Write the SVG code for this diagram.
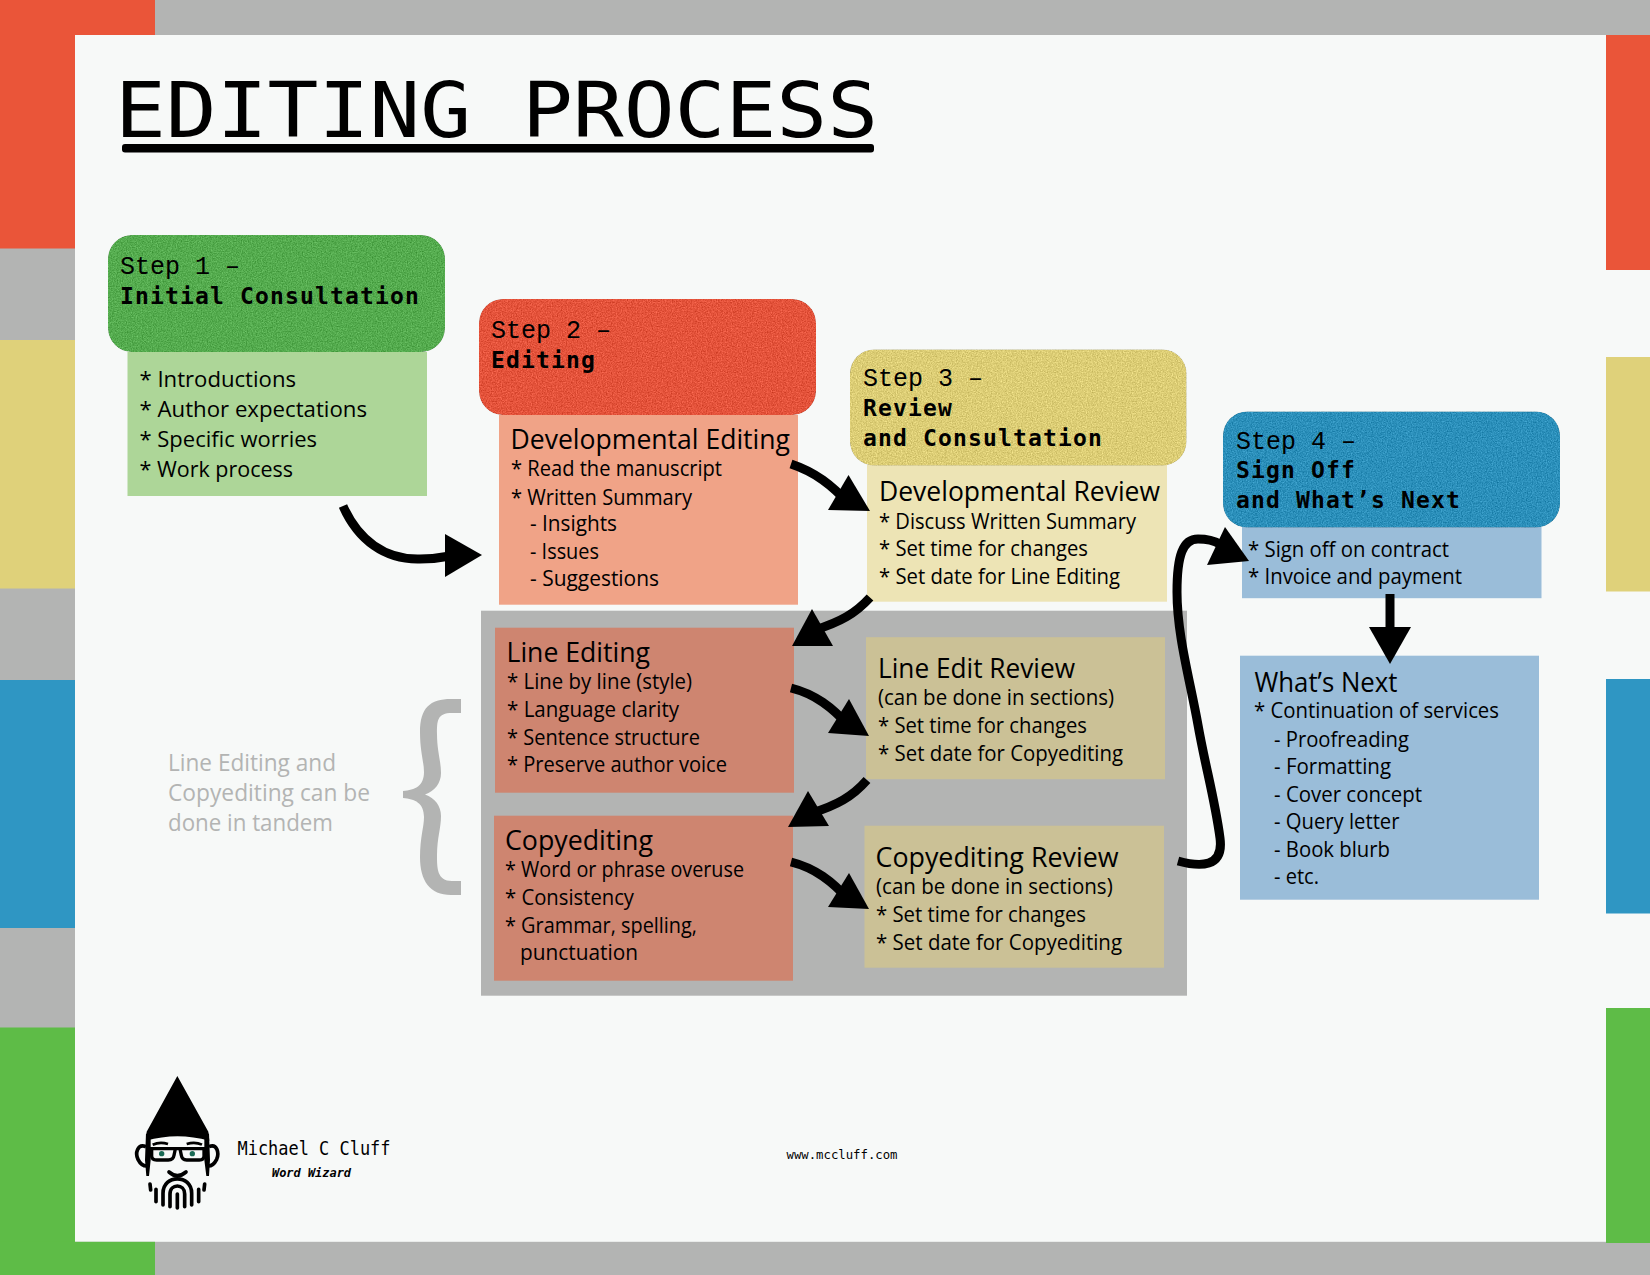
<svg xmlns="http://www.w3.org/2000/svg" width="1650" height="1275" viewBox="0 0 1650 1275">
<style>
.m{font-family:"Liberation Mono","DejaVu Sans Mono",monospace;fill:#000}
.d{font-family:"DejaVu Sans Mono","Liberation Mono",monospace;fill:#000}
.s{font-size:25px}
.b{font-size:23px;font-weight:700;letter-spacing:1.15px}
.h{font-family:"Open Sans","Noto Sans",sans-serif;font-size:28px;fill:#000}
.t{font-family:"Open Sans","Noto Sans",sans-serif;font-size:22px;fill:#000}
.g{font-family:"Open Sans","Noto Sans",sans-serif;font-size:24px;fill:#b3b4b3}
.ln{fill:none;stroke:#000;stroke-width:9}
</style>
<defs>
<filter id="grain" x="0" y="0" width="100%" height="100%" color-interpolation-filters="sRGB">
<feTurbulence type="fractalNoise" baseFrequency="0.8" numOctaves="2" seed="4" result="n"/>
<feColorMatrix in="n" type="matrix" values="1 0 0 0 0 1 0 0 0 0 1 0 0 0 0 0 0 0 0 1" result="c"/>
<feComposite in="SourceGraphic" in2="c" operator="arithmetic" k1="0" k2="1" k3="0.3" k4="-0.15" result="d"/>
<feComposite in="d" in2="SourceAlpha" operator="in"/>
</filter>
</defs>
<g id="frame">
<rect width="1650" height="1275" fill="#b3b4b3"/>
<rect x="75" y="35" width="1531" height="1206.800" fill="#f7f9f8"/>
<rect x="1606" y="35" width="44" height="1208" fill="#f7f9f8"/>
<rect width="155" height="35" fill="#ea5539"/>
<rect width="75" height="248.500" fill="#ea5539"/>
<rect y="340" width="75" height="248.500" fill="#dfd17a"/>
<rect y="680" width="75" height="248" fill="#2f96c3"/>
<rect y="1027.500" width="75" height="247.500" fill="#5ebc47"/>
<rect y="1241.800" width="155" height="33.200" fill="#5ebc47"/>
<rect x="1606" y="35" width="44" height="235" fill="#ea5539"/>
<rect x="1606" y="357" width="44" height="234.500" fill="#dfd17a"/>
<rect x="1606" y="679" width="44" height="234.500" fill="#2f96c3"/>
<rect x="1606" y="1008" width="44" height="235" fill="#5ebc47"/>
</g>
<g id="title">
<text class="d" x="115" y="137" font-size="77" textLength="763" lengthAdjust="spacingAndGlyphs">EDITING PROCESS</text>
<rect x="122" y="144" width="752" height="8.500" rx="3" fill="#000"/>
</g>
<g id="tandem-group">
<rect x="481" y="610.700" width="706" height="385" fill="#b3b4b3"/>
</g>
<g id="step1">
<rect x="127.500" y="352" width="299.500" height="144" fill="#add698"/>
<rect x="108" y="235" width="337" height="117" rx="24" fill="#54ab4e" filter="url(#grain)"/>
<text class="m s" x="120" y="274">Step 1 –</text>
<text class="d b" x="120" y="304">Initial Consultation</text>
<text class="t" x="139.500" y="387" textLength="156.500" lengthAdjust="spacingAndGlyphs">* Introductions</text>
<text class="t" x="139.500" y="417" textLength="227.500" lengthAdjust="spacingAndGlyphs">* Author expectations</text>
<text class="t" x="139.500" y="447" textLength="177.500" lengthAdjust="spacingAndGlyphs">* Specific worries</text>
<text class="t" x="139.500" y="477" textLength="153.500" lengthAdjust="spacingAndGlyphs">* Work process</text>
</g>
<g id="step2">
<rect x="499" y="415" width="299" height="189.700" fill="#f0a387"/>
<rect x="479" y="299" width="337" height="116" rx="24" fill="#e4533b" filter="url(#grain)"/>
<text class="m s" x="491" y="338">Step 2 –</text>
<text class="d b" x="491" y="368">Editing</text>
<text class="h" x="510.500" y="449" textLength="279.500" lengthAdjust="spacingAndGlyphs">Developmental Editing</text>
<text class="t" x="511" y="476" textLength="211" lengthAdjust="spacingAndGlyphs">* Read the manuscript</text>
<text class="t" x="511" y="505" textLength="181" lengthAdjust="spacingAndGlyphs">* Written Summary</text>
<text class="t" x="530" y="531" textLength="87" lengthAdjust="spacingAndGlyphs">- Insights</text>
<text class="t" x="530" y="559" textLength="69" lengthAdjust="spacingAndGlyphs">- Issues</text>
<text class="t" x="530" y="586" textLength="129" lengthAdjust="spacingAndGlyphs">- Suggestions</text>
</g>
<g id="step3">
<rect x="867" y="465" width="300" height="136.700" fill="#ede4b5"/>
<rect x="850" y="349.500" width="336.500" height="116" rx="24" fill="#dccd75" filter="url(#grain)"/>
<text class="m s" x="863" y="386">Step 3 –</text>
<text class="d b" x="863" y="416">Review</text>
<text class="d b" x="863" y="446">and Consultation</text>
<text class="h" x="879" y="501" textLength="281" lengthAdjust="spacingAndGlyphs">Developmental Review</text>
<text class="t" x="879" y="528.500" textLength="257" lengthAdjust="spacingAndGlyphs">* Discuss Written Summary</text>
<text class="t" x="879" y="555.500" textLength="209" lengthAdjust="spacingAndGlyphs">* Set time for changes</text>
<text class="t" x="879" y="584" textLength="241" lengthAdjust="spacingAndGlyphs">* Set date for Line Editing</text>
</g>
<g id="step4">
<rect x="1242" y="527" width="299.500" height="71.200" fill="#9abdd9"/>
<rect x="1223" y="411.500" width="337" height="116" rx="24" fill="#2b8fba" filter="url(#grain)"/>
<text class="m s" x="1236" y="449">Step 4 –</text>
<text class="d b" x="1236" y="478">Sign Off</text>
<text class="d b" x="1236" y="507.500">and What’s Next</text>
<text class="t" x="1248" y="557" textLength="201" lengthAdjust="spacingAndGlyphs">* Sign off on contract</text>
<text class="t" x="1248" y="584" textLength="214" lengthAdjust="spacingAndGlyphs">* Invoice and payment</text>
</g>
<g id="whats-next">
<rect x="1240" y="655.700" width="299" height="244" fill="#9abdd9"/>
<text class="h" x="1254.500" y="692" textLength="143" lengthAdjust="spacingAndGlyphs">What’s Next</text>
<text class="t" x="1254" y="718" textLength="245" lengthAdjust="spacingAndGlyphs">* Continuation of services</text>
<text class="t" x="1274" y="746.500" textLength="135" lengthAdjust="spacingAndGlyphs">- Proofreading</text>
<text class="t" x="1274" y="774" textLength="117" lengthAdjust="spacingAndGlyphs">- Formatting</text>
<text class="t" x="1274" y="801.500" textLength="148" lengthAdjust="spacingAndGlyphs">- Cover concept</text>
<text class="t" x="1274" y="829" textLength="125.500" lengthAdjust="spacingAndGlyphs">- Query letter</text>
<text class="t" x="1274" y="857" textLength="116" lengthAdjust="spacingAndGlyphs">- Book blurb</text>
<text class="t" x="1274" y="883.500" textLength="45" lengthAdjust="spacingAndGlyphs">- etc.</text>
</g>
<g id="line-editing">
<rect x="495" y="627.700" width="299" height="165" fill="#ce8570"/>
<text class="h" x="506.500" y="662" textLength="143.500" lengthAdjust="spacingAndGlyphs">Line Editing</text>
<text class="t" x="507" y="689" textLength="185" lengthAdjust="spacingAndGlyphs">* Line by line (style)</text>
<text class="t" x="507" y="717" textLength="172" lengthAdjust="spacingAndGlyphs">* Language clarity</text>
<text class="t" x="507" y="744.500" textLength="193" lengthAdjust="spacingAndGlyphs">* Sentence structure</text>
<text class="t" x="507" y="772" textLength="220" lengthAdjust="spacingAndGlyphs">* Preserve author voice</text>
</g>
<g id="copyediting">
<rect x="494" y="815.700" width="299" height="165" fill="#ce8570"/>
<text class="h" x="505" y="850" textLength="148" lengthAdjust="spacingAndGlyphs">Copyediting</text>
<text class="t" x="505" y="877" textLength="239" lengthAdjust="spacingAndGlyphs">* Word or phrase overuse</text>
<text class="t" x="505" y="905" textLength="129" lengthAdjust="spacingAndGlyphs">* Consistency</text>
<text class="t" x="505" y="932.500" textLength="192" lengthAdjust="spacingAndGlyphs">* Grammar, spelling,</text>
<text class="t" x="520" y="960" textLength="118" lengthAdjust="spacingAndGlyphs">punctuation</text>
</g>
<g id="line-edit-review">
<rect x="866" y="637.200" width="299" height="142" fill="#cbc196"/>
<text class="h" x="878" y="678" textLength="197" lengthAdjust="spacingAndGlyphs">Line Edit Review</text>
<text class="t" x="878" y="705" textLength="236" lengthAdjust="spacingAndGlyphs">(can be done in sections)</text>
<text class="t" x="878" y="732.500" textLength="209" lengthAdjust="spacingAndGlyphs">* Set time for changes</text>
<text class="t" x="878" y="760.500" textLength="245" lengthAdjust="spacingAndGlyphs">* Set date for Copyediting</text>
</g>
<g id="copyediting-review">
<rect x="864.500" y="825.700" width="299.500" height="142" fill="#cbc196"/>
<text class="h" x="875.500" y="867" textLength="243" lengthAdjust="spacingAndGlyphs">Copyediting Review</text>
<text class="t" x="876" y="894" textLength="236.700" lengthAdjust="spacingAndGlyphs">(can be done in sections)</text>
<text class="t" x="876" y="922" textLength="210" lengthAdjust="spacingAndGlyphs">* Set time for changes</text>
<text class="t" x="876" y="949.500" textLength="246" lengthAdjust="spacingAndGlyphs">* Set date for Copyediting</text>
</g>
<g id="tandem-note">
<text class="g" x="168" y="771" textLength="168" lengthAdjust="spacingAndGlyphs">Line Editing and</text>
<text class="g" x="168" y="801" textLength="202" lengthAdjust="spacingAndGlyphs">Copyediting can be</text>
<text class="g" x="168" y="831" textLength="165" lengthAdjust="spacingAndGlyphs">done in tandem</text>
<path d="M461 699 H451 C430 699 420 708 420 732 C420 752 424 762 424 772 C424 786 415 790 403 791 V798 C415 799 424 803 424 817 C424 827 420 837 420 857 C420 881 430 895 451 895 H461 V881 H452 C437 881 437 868 437 855 C437 838 441 828 441 816 C441 806 435 798 425 794.500 C435 791 441 783 441 773 C441 761 437 751 437 734 C437 721 437 713 452 713 H461 Z" fill="#b3b4b3"/>
</g>
<g id="connectors">
<path class="ln" d="M343 506 C358 540 385 560 420 559 Q435 559 450 556"/>
<polygon points="445,534 482,555 445,577"/>
<path class="ln" d="M791 464 C815 472 832 485 850 505"/>
<polygon points="870,511 828,510 848.500,475"/>
<path class="ln" d="M870 597.500 C855 614 840 622 815 630"/>
<polygon points="792,646 833,646 812,609"/>
<path class="ln" d="M791 688 C815 694 832 707 850 727"/>
<polygon points="869,736 828,733 849,699"/>
<path class="ln" d="M867 780 C852 797 837 805 812 813"/>
<polygon points="788,827 829,826 808,791"/>
<path class="ln" d="M791 862 C815 868 832 881 850 901"/>
<polygon points="869,909 828,907 849,873"/>
<path class="ln" d="M1178 861 C1200 867 1224 868 1220 838 C1215 800 1205 765 1198 725 C1190 680 1177 635 1177 592 C1177 555 1183 539 1198 539 C1207 539 1213 540 1220 544"/>
<polygon points="1249,561 1207,565 1225,527"/>
<path class="ln" d="M1390 594 V632"/>
<polygon points="1369,627 1411,627 1390,664"/>
</g>
<g id="logo" transform="translate(100 1050) scale(0.33333)">
<path d="M232 78 L325 245 L328 272 Q232 245 138 272 L140 245 Z" fill="#000"/>
<path d="M138 250 L135 330 L139 378 L147 378 L152 330 V262 Z M327 250 L330 330 L327 378 L319 378 L313 330 V262 Z" fill="#000"/>
<path d="M138 290 C112 280 105 310 114 328 C120 340 130 348 140 348 M327 290 C352 280 358 310 350 328 C344 340 334 348 325 348" fill="none" stroke="#000" stroke-width="11"/>
<path d="M158 284 Q180 274 204 282 M260 282 Q285 274 306 284" fill="none" stroke="#000" stroke-width="8"/>
<path d="M148 296 H316 M155 297 V318 Q155 330 170 330 H205 Q220 330 222 316 L226 297 M240 297 L244 316 Q246 330 260 330 H298 Q312 330 312 318 V297" fill="none" stroke="#000" stroke-width="10"/>
<circle cx="185" cy="311" r="8" fill="#1a6b55"/>
<circle cx="277" cy="311" r="8" fill="#1a6b55"/>
<path d="M207 366 Q232 388 258 366" fill="none" stroke="#000" stroke-width="11" stroke-linecap="round"/>
<path d="M189 465 V430 C189 372 275 372 275 430 V465 M210 470 V432 C210 400 254 400 254 432 V470 M232 432 V474 M168 418 V455 M296 418 V455 M150 402 L152 420 M314 402 L312 420" fill="none" stroke="#000" stroke-width="11" stroke-linecap="round"/>
</g>
<g id="footer">
<text class="d" x="237.500" y="1155" font-size="19" textLength="153" lengthAdjust="spacingAndGlyphs">Michael C Cluff</text>
<text class="d" x="272" y="1177" font-size="11.500" font-weight="700" font-style="italic" textLength="79" lengthAdjust="spacingAndGlyphs">Word Wizard</text>
<text class="d" x="786.500" y="1158.500" font-size="12" textLength="111" lengthAdjust="spacingAndGlyphs">www.mccluff.com</text>
</g>
</svg>
